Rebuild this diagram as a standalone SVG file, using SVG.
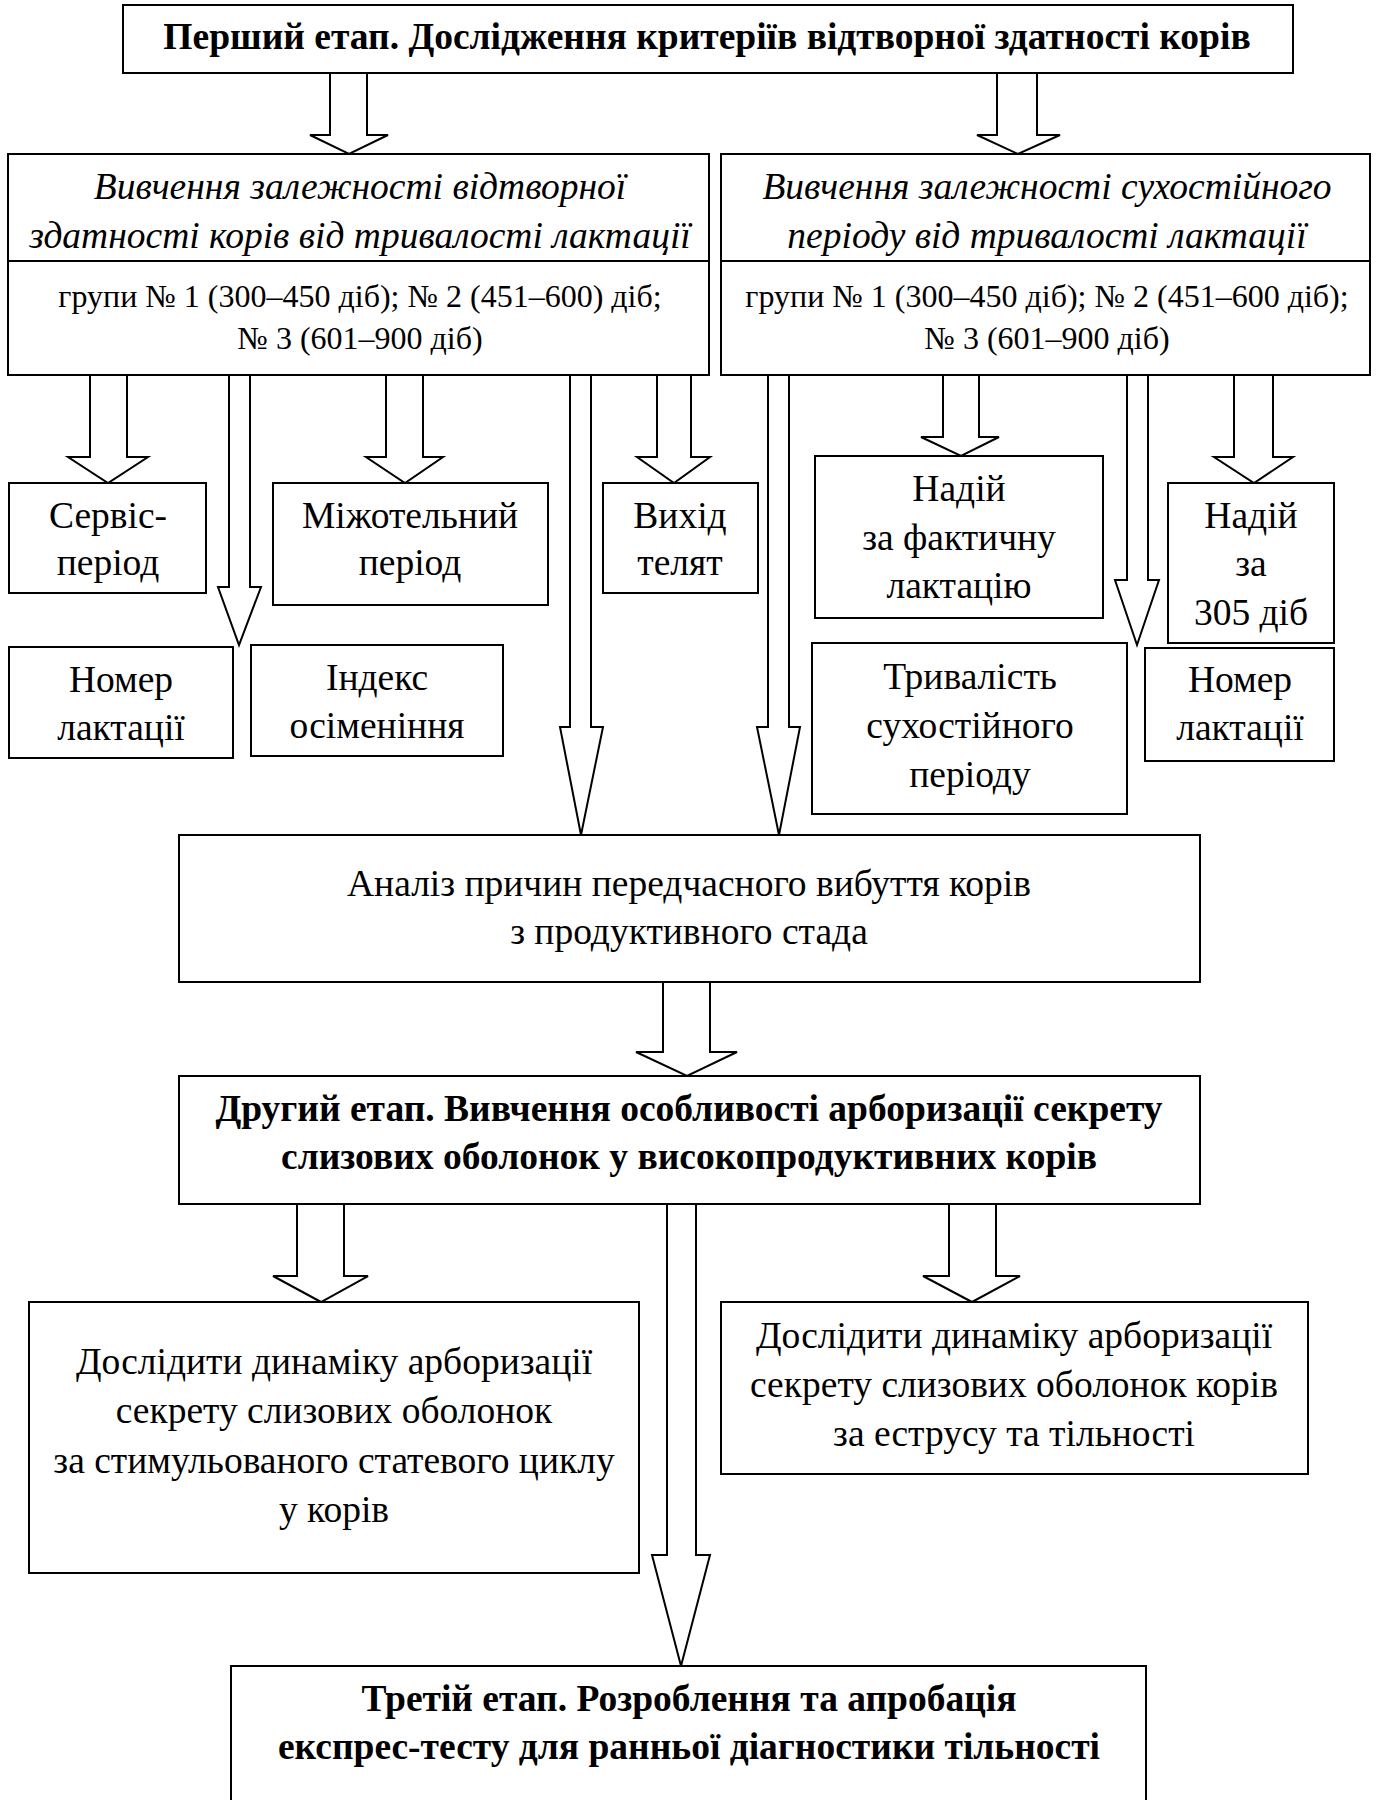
<svg xmlns="http://www.w3.org/2000/svg" width="1381" height="1800" viewBox="0 0 1381 1800">
<style>
.box{fill:#fff;stroke:#000;stroke-width:2}
.arr{fill:#fff;stroke:#000;stroke-width:2;stroke-linejoin:miter}
text{font-family:"Liberation Serif","Times New Roman",serif;font-size:37.5px;fill:#000;text-anchor:middle}
.b{font-weight:bold}
.i{font-style:italic}
.s{font-size:32px}
</style>
<rect width="1381" height="1800" fill="#fff"/>
<g id="connectors">
<path class="arr" d="M330,73 V135 H310 L349,154 L388,135 H367 V73"/>
<path class="arr" d="M997,73 V135 H977 L1018,154 L1060,135 H1037 V73"/>
<path class="arr" d="M90,375 V457 H68 L108,483 L148,457 H127 V375"/>
<path class="arr" d="M229,375 V587 H218 L239,645 L261,587 H250 V375"/>
<path class="arr" d="M386,375 V457 H366 L405,483 L443,457 H423 V375"/>
<path class="arr" d="M570,375 V727 H560 L581,835 L603,727 H591 V375"/>
<path class="arr" d="M657,375 V457 H637 L674,483 L710,457 H691 V375"/>
<path class="arr" d="M768,375 V727 H757 L779,835 L800,727 H789 V375"/>
<path class="arr" d="M943,375 V437 H921 L961,456 L999,437 H979 V375"/>
<path class="arr" d="M1127,375 V580 H1115 L1137,645 L1159,580 H1148 V375"/>
<path class="arr" d="M1234,375 V457 H1214 L1254,483 L1293,457 H1273 V375"/>
<path class="arr" d="M663,982 V1052 H636 L687,1076 L737,1052 H710 V982"/>
<path class="arr" d="M297,1204 V1276 H273 L321,1302 L368,1276 H344 V1204"/>
<path class="arr" d="M667,1204 V1555 H652 L681,1666 L710,1555 H696 V1204"/>
<path class="arr" d="M949,1204 V1276 H923 L972,1302 L1020,1276 H996 V1204"/>
</g>
<g id="stage1">
<rect class="box" x="123" y="5" width="1170" height="68"/>
<text class="b" x="707" y="49">Перший етап. Дослідження критеріїв відтворної здатності корів</text>
</g>
<g id="study1">
<rect class="box" x="8" y="154" width="701" height="221"/>
<line x1="8" y1="261" x2="709" y2="261" stroke="#000" stroke-width="2"/>
<text class="i" x="360" y="199">Вивчення залежності відтворної</text>
<text class="i" x="360" y="248">здатності корів від тривалості лактації</text>
<text class="s" x="360" y="307">групи № 1 (300–450 діб); № 2 (451–600) діб;</text>
<text class="s" x="360" y="349">№ 3 (601–900 діб)</text>
</g>
<g id="study2">
<rect class="box" x="721" y="154" width="649" height="221"/>
<line x1="721" y1="261" x2="1370" y2="261" stroke="#000" stroke-width="2"/>
<text class="i" x="1047" y="199">Вивчення залежності сухостійного</text>
<text class="i" x="1047" y="248">періоду від тривалості лактації</text>
<text class="s" x="1047" y="307">групи № 1 (300–450 діб); № 2 (451–600 діб);</text>
<text class="s" x="1047" y="349">№ 3 (601–900 діб)</text>
</g>
<g id="servis">
<rect class="box" x="9" y="483" width="197" height="110"/>
<text x="108" y="528">Сервіс-</text>
<text x="108" y="575">період</text>
</g>
<g id="nomer1">
<rect class="box" x="9" y="647" width="224" height="111"/>
<text x="121" y="692">Номер</text>
<text x="121" y="740">лактації</text>
</g>
<g id="mizhotel">
<rect class="box" x="273" y="483" width="275" height="122"/>
<text x="410" y="528">Міжотельний</text>
<text x="410" y="575">період</text>
</g>
<g id="indeks">
<rect class="box" x="251" y="645" width="252" height="111"/>
<text x="377" y="690">Індекс</text>
<text x="377" y="738">осіменіння</text>
</g>
<g id="vykhid">
<rect class="box" x="603" y="483" width="155" height="110"/>
<text x="680" y="528">Вихід</text>
<text x="680" y="575">телят</text>
</g>
<g id="nadiy1">
<rect class="box" x="815" y="456" width="288" height="162"/>
<text x="959" y="501">Надій</text>
<text x="959" y="550">за фактичну</text>
<text x="959" y="598">лактацію</text>
</g>
<g id="tryvalist">
<rect class="box" x="812" y="643" width="315" height="171"/>
<text x="970" y="689">Тривалість</text>
<text x="970" y="738">сухостійного</text>
<text x="970" y="787">періоду</text>
</g>
<g id="nadiy2">
<rect class="box" x="1168" y="483" width="166" height="160"/>
<text x="1251" y="528">Надій</text>
<text x="1251" y="576">за</text>
<text x="1251" y="625">305 діб</text>
</g>
<g id="nomer2">
<rect class="box" x="1145" y="648" width="189" height="113"/>
<text x="1240" y="692">Номер</text>
<text x="1240" y="740">лактації</text>
</g>
<g id="analiz">
<rect class="box" x="179" y="835" width="1021" height="147"/>
<text x="689" y="896">Аналіз причин передчасного вибуття корів</text>
<text x="689" y="944">з продуктивного стада</text>
</g>
<g id="stage2">
<rect class="box" x="179" y="1076" width="1021" height="128"/>
<text class="b" x="689" y="1121">Другий етап. Вивчення особливості арборизації секрету</text>
<text class="b" x="689" y="1169">слизових оболонок у високопродуктивних корів</text>
</g>
<g id="dynamika1">
<rect class="box" x="29" y="1302" width="610" height="271"/>
<text x="334" y="1374">Дослідити динаміку арборизації</text>
<text x="334" y="1423">секрету слизових оболонок</text>
<text x="334" y="1473">за стимульованого статевого циклу</text>
<text x="334" y="1522">у корів</text>
</g>
<g id="dynamika2">
<rect class="box" x="721" y="1302" width="587" height="172"/>
<text x="1014" y="1348">Дослідити динаміку арборизації</text>
<text x="1014" y="1397">секрету слизових оболонок корів</text>
<text x="1014" y="1446">за еструсу та тільності</text>
</g>
<g id="stage3">
<rect class="box" x="231" y="1666" width="915" height="150"/>
<text class="b" x="689" y="1711">Третій етап. Розроблення та апробація</text>
<text class="b" x="689" y="1759">експрес-тесту для ранньої діагностики тільності</text>
</g>
</svg>
